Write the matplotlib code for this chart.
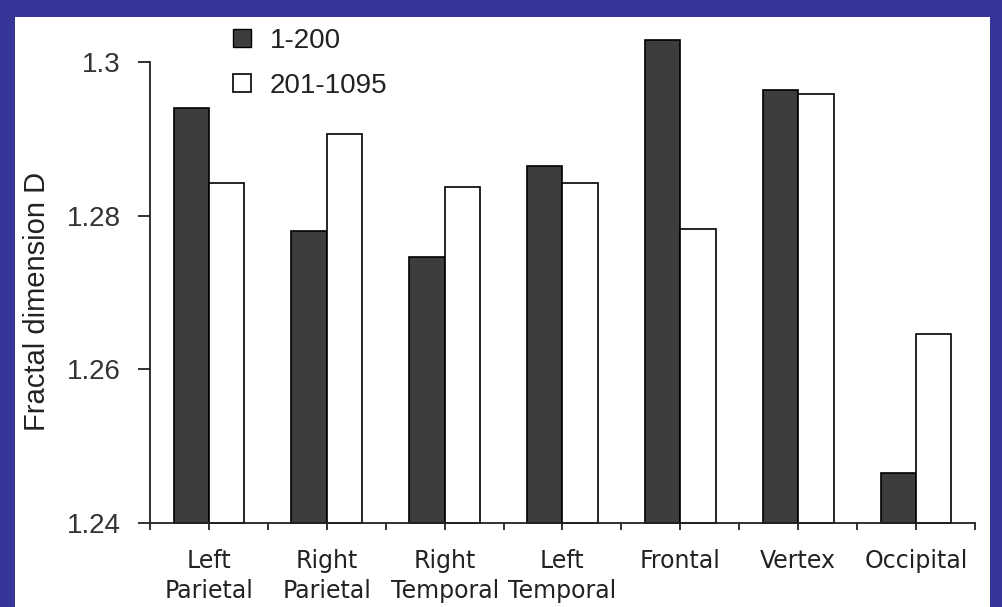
import matplotlib
matplotlib.use('Agg')
import matplotlib.pyplot as plt
from matplotlib.lines import Line2D
from matplotlib.patches import Rectangle
import numpy as np

categories = ['Left\nParietal', 'Right\nParietal', 'Right\nTemporal', 'Left\nTemporal',
              'Frontal', 'Vertex', 'Occipital']
series_names = ['1-200', '201-1095']
vals_1_200 = [1.2940, 1.2780, 1.2746, 1.2865, 1.3028, 1.2964, 1.2465]
vals_201_1095 = [1.2843, 1.2906, 1.2837, 1.2843, 1.2782, 1.2958, 1.2646]
yticks = [1.24, 1.26, 1.28, 1.3]
ytick_labels = ['1.24', '1.26', '1.28', '1.3']

border = '#373698'
dark = '#3d3d3d'

fig = plt.figure(figsize=(10.03, 6.07), dpi=100, facecolor=border)
# white panel inside the blue frame
fig.patches.append(Rectangle((15 / 1003, 0), 975 / 1003, 1 - 17 / 607,
                             transform=fig.transFigure, facecolor='white',
                             edgecolor='none', zorder=-10))

ax = fig.add_axes([150 / 1003, 1 - 523 / 607, 825 / 1003, 461 / 607])
ax.set_facecolor('none')

x = np.arange(len(categories))
w = 0.3
b1 = ax.bar(x - w / 2, np.array(vals_1_200) - 1.24, w, bottom=1.24,
            color=dark, edgecolor='black', linewidth=1.2, clip_on=False)
b2 = ax.bar(x + w / 2, np.array(vals_201_1095) - 1.24, w, bottom=1.24,
            color='white', edgecolor='black', linewidth=1.2, clip_on=False)

ax.set_xlim(-0.5, len(categories) - 0.5)
ax.set_ylim(1.24, 1.3)

ax.spines['top'].set_visible(False)
ax.spines['right'].set_visible(False)
ax.spines['left'].set_linewidth(1.3)
ax.spines['bottom'].set_linewidth(1.3)
ax.spines['left'].set_color('#222222')
ax.spines['bottom'].set_color('#222222')

ax.set_yticks(yticks)
ax.set_yticklabels(ytick_labels, fontsize=20, family='Liberation Sans', color='#333333')
ax.tick_params(axis='y', direction='out', length=9, width=1.3, pad=12, color='#222222')

ax.set_xticks(x)
ax.set_xticks(np.arange(len(categories) + 1) - 0.5, minor=True)
ax.set_xticklabels(categories, fontsize=17, family='DejaVu Sans', color='#222222',
                   linespacing=1.3)
ax.tick_params(axis='x', which='both', direction='out', length=5, width=1.3,
               pad=14, color='#222222')

fig.text(37 / 1003, 1 - 301 / 607, 'Fractal dimension D', rotation=90,
         ha='center', va='center', fontsize=21, family='Liberation Sans',
         color='#222222')

handles = [Line2D([], [], marker='s', linestyle='none', markersize=12.5,
                  markerfacecolor=dark, markeredgecolor='black', markeredgewidth=1),
           Line2D([], [], marker='s', linestyle='none', markersize=12.5,
                  markerfacecolor='white', markeredgecolor='black', markeredgewidth=1.2)]
fig.legend(handles, series_names, loc='upper left',
           bbox_to_anchor=(214 / 1003, 1 - 14 / 607), frameon=False,
           prop={'family': 'Liberation Sans', 'size': 20}, handlelength=1.0,
           handletextpad=0.5, labelspacing=0.68, borderpad=0, labelcolor='#222222')

fig.savefig('out.png', dpi=100, facecolor=border)
